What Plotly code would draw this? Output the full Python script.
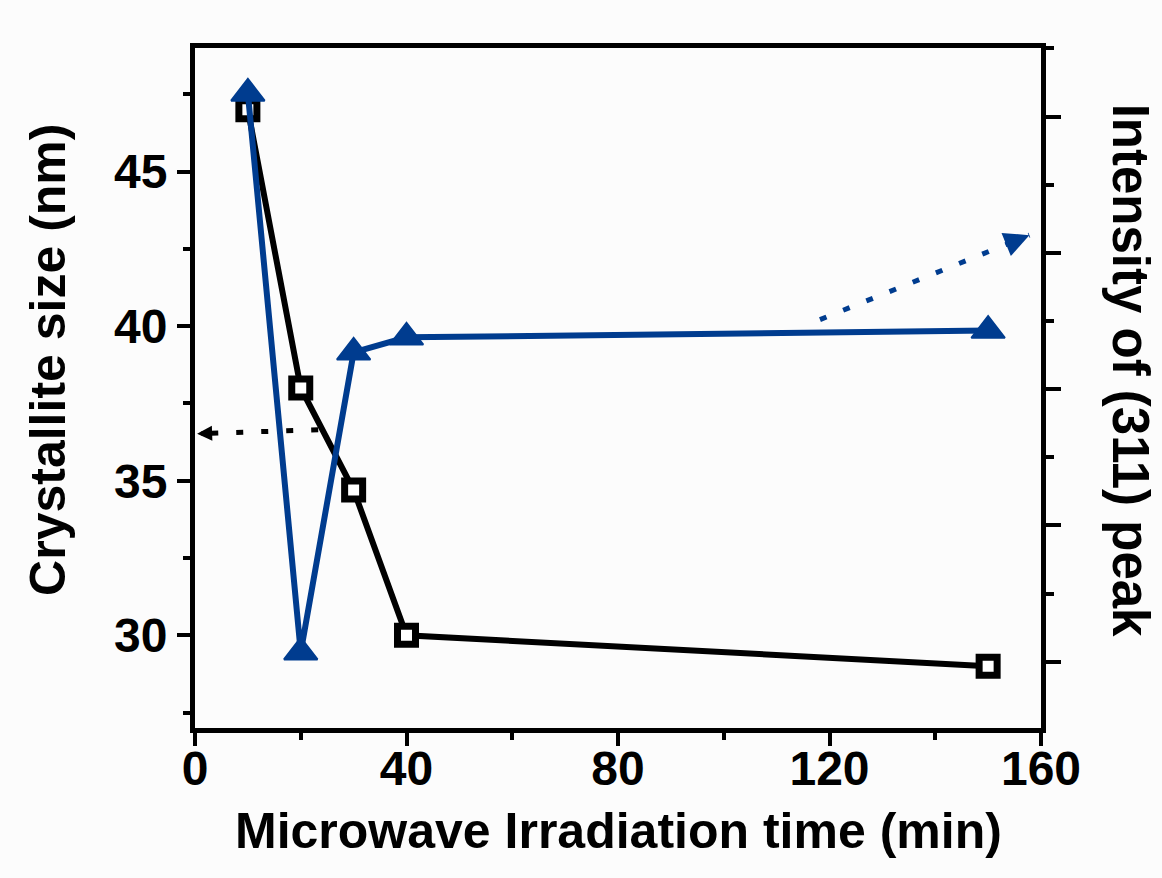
import plotly.graph_objects as go

# ---- data ----
time_min = [10, 20, 30, 40, 150]
crystallite_nm = [47.0, 38.0, 34.7, 30.0, 29.0]
intensity_311 = [5.17, 1.07, 3.27, 3.38, 3.43]   # arbitrary units (right axis unlabeled)

x_ticks = [0, 40, 80, 120, 160]
y_ticks = [30, 35, 40, 45]

# guide arrows (data units): [tail, tip]
arrow_left_x = [23.3, 0.4]
arrow_left_y = [36.65, 36.52]
arrow_right_x = [118.2, 157.8]
arrow_right_y = [3.51, 4.13]

BLUE = "#003c8f"
FONT = "Liberation Sans"

fig = go.Figure()

fig.add_trace(go.Scatter(
    x=time_min, y=crystallite_nm, mode="lines+markers",
    line=dict(color="black", width=6),
    marker=dict(symbol="square", size=18, color="white",
                line=dict(color="black", width=7)),
    cliponaxis=False, showlegend=False))

fig.add_trace(go.Scatter(
    x=arrow_left_x, y=arrow_left_y, mode="lines",
    line=dict(color="black", width=5, dash="7px,18px"),
    cliponaxis=False, showlegend=False))

fig.add_trace(go.Scatter(
    x=time_min, y=intensity_311, mode="lines+markers", yaxis="y2",
    line=dict(color=BLUE, width=6),
    marker=dict(symbol="triangle-up", size=29, color=BLUE,
                line=dict(color=BLUE, width=2)),
    cliponaxis=False, showlegend=False))

fig.add_trace(go.Scatter(
    x=arrow_right_x, y=arrow_right_y, mode="lines", yaxis="y2",
    line=dict(color=BLUE, width=5, dash="7px,18px"),
    cliponaxis=False, showlegend=False))


def head(xs, ys, yref, color, frac, scale):
    # short solid arrow at the tip of a guide line, pointing along it
    tx, ty = xs[1], ys[1]
    bx = tx + (xs[0] - tx) * frac
    by = ty + (ys[0] - ty) * frac
    return dict(x=tx, y=ty, xref="x", yref=yref, ax=bx, ay=by,
                axref="x", ayref=yref, text="", showarrow=True,
                arrowhead=2, arrowwidth=4, arrowsize=scale,
                arrowcolor=color, standoff=0)


tickfont = dict(family=FONT, size=48, color="black", weight="bold")

fig.update_layout(
    width=1162, height=878,
    margin=dict(l=195, r=121, t=48, b=150),
    paper_bgcolor="#fcfcfc", plot_bgcolor="#fcfcfc",
    xaxis=dict(range=[0, 160], tickvals=x_ticks, ticks="outside", ticklen=13,
               tickwidth=4, tickcolor="black", showline=True, linewidth=5,
               linecolor="black", mirror=True, showgrid=False, zeroline=False,
               tickfont=tickfont, ticklabelstandoff=-19,
               minor=dict(dtick=20, tick0=0, ticks="outside", ticklen=7,
                          tickwidth=4, tickcolor="black", showgrid=False)),
    yaxis=dict(range=[27, 49], tickvals=y_ticks, ticks="outside", ticklen=13,
               tickwidth=4, tickcolor="black", showline=True, linewidth=5,
               linecolor="black", showgrid=False, zeroline=False,
               tickfont=tickfont,
               minor=dict(dtick=2.5, tick0=27.5, ticks="outside", ticklen=7,
                          tickwidth=4, tickcolor="black", showgrid=False)),
    yaxis2=dict(range=[0.514, 5.503], overlaying="y", side="right",
                tick0=1, dtick=1, ticks="outside", ticklen=15, tickwidth=4,
                tickcolor="black", showline=True, linewidth=5,
                linecolor="black", showgrid=False, zeroline=False,
                showticklabels=False,
                minor=dict(dtick=0.5, tick0=0.5, ticks="outside", ticklen=8,
                           tickwidth=4, tickcolor="black", showgrid=False)),
    annotations=[
        head(arrow_left_x, arrow_left_y, "y", "black", 0.12, 0.75),
        head(arrow_right_x, arrow_right_y, "y2", BLUE, 0.12, 1.25),
        dict(text="<b>Microwave Irradiation time (min)</b>", xref="paper",
             yref="paper", x=0.5, y=-0.152, xanchor="center", yanchor="middle",
             showarrow=False, font=dict(family=FONT, size=50, color="black")),
        dict(text="<b>Crystallite size (nm)</b>", xref="paper", yref="paper",
             x=-0.174, y=0.541, xanchor="center", yanchor="middle",
             textangle=-90, showarrow=False,
             font=dict(family=FONT, size=50, color="black")),
        dict(text="<b>Intensity of (311) peak</b>", xref="paper", yref="paper",
             x=1.106, y=0.526, xanchor="center", yanchor="middle",
             textangle=90, showarrow=False,
             font=dict(family=FONT, size=51, color="black")),
    ],
)

fig.write_html("out.html")
